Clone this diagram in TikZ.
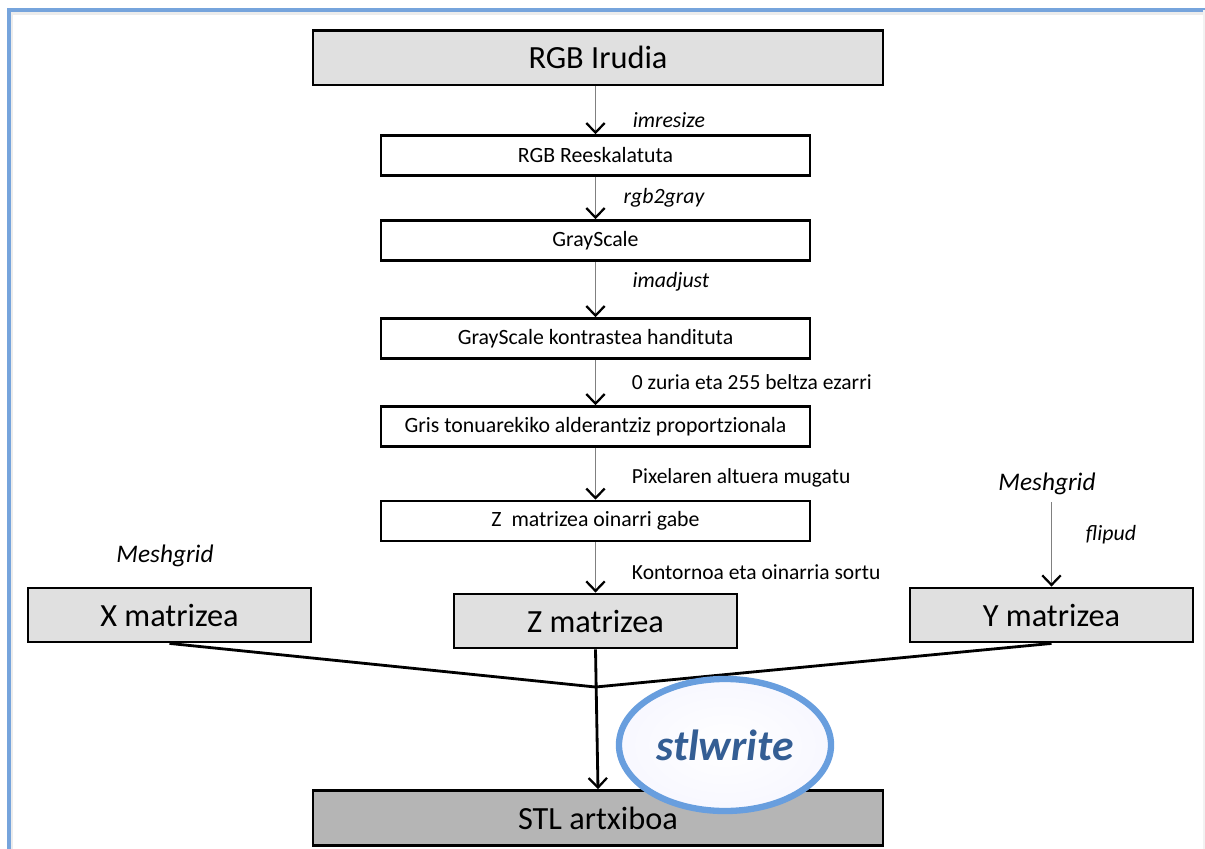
\documentclass[tikz,border=0pt]{standalone}
\usepackage{fontspec}
\setmainfont{Carlito}
\usepackage{tikz}
\usetikzlibrary{shapes,arrows.meta,positioning,calc}
\definecolor{framblue}{RGB}{118, 164, 220}
\definecolor{ringblue}{RGB}{104, 158, 222}
\definecolor{boxgray}{RGB}{224, 224, 224}
\definecolor{stlgray}{RGB}{181, 181, 181}
\definecolor{linegray}{RGB}{128, 128, 128}
\definecolor{writeblue}{RGB}{52, 94, 148}

\begin{document}
\begin{tikzpicture}[x=0.025cm, y=-0.025cm]
    % Styles
    \tikzstyle{bigbox} = [draw=black, fill=boxgray, line width=2pt, minimum width=14.25cm, minimum height=1.37cm, font=\fontsize{23}{27}\selectfont]
    \tikzstyle{stepbox} = [draw=black, fill=white, line width=1.8pt, minimum width=10.72cm, minimum height=1cm, font=\fontsize{15.5}{18}\selectfont]
    \tikzstyle{matbox} = [draw=black, fill=boxgray, line width=2pt, minimum width=7.07cm, minimum height=1.35cm, font=\fontsize{23}{27}\selectfont]
    \tikzstyle{steplabel} = [font=\fontsize{15.5}{18}\selectfont\itshape]
    \tikzstyle{note} = [font=\fontsize{15.3}{18}\selectfont, anchor=west]
    \tikzstyle{arrow} = [linegray, line width=1pt, -{Straight Barb[color=black, length=2.4mm, width=4.6mm, line width=1.6pt]}]
    \tikzstyle{joinline} = [black, line width=2pt]

    \useasboundingbox (0,0) rectangle (1205,849);

    % Frame
    \draw[gray!15, line width=3pt] (11,849) -- (11,13) -- (1205,13);
    \draw[framblue, line width=2.2pt] (9,849) -- (9,10) -- (1205,10);
    \draw[gray!10, line width=1pt] (1204,10) -- (1204,849);

    % Main chain
    \node[bigbox] (rgb_img) at (598, 57.5) {RGB Irudia};
    \node[stepbox] (rgb_res) at (595.5, 155.5) {RGB Reeskalatuta};
    \node[stepbox] (gray_img) at (595.5, 240.5) {GrayScale};
    \node[stepbox] (gray_con) at (595.5, 338.5) {GrayScale kontrastea handituta};
    \node[stepbox] (gray_inv) at (595.5, 426.5) {Gris tonuarekiko alderantziz proportzionala};
    \node[stepbox] (z_raw) at (595.5, 521) {Z\ \ matrizea oinarri gabe};

    % Matrices
    \node[matbox] (x_mat) at (169.5, 615) {X matrizea};
    \node[matbox] (z_mat) at (595.5, 621) {Z matrizea};
    \node[matbox] (y_mat) at (1051.5, 615) {Y matrizea};
    \node[bigbox, fill=stlgray] (stl_file) at (598, 818) {STL artxiboa};

    % Labels
    \node[steplabel] at (669, 120) {imresize};
    \node[steplabel] at (664, 198) {rgb2gray};
    \node[steplabel] at (671, 282) {imadjust};
    \node[note] at (627, 382) {0 zuria eta 255 beltza ezarri};
    \node[note] at (627, 478) {Pixelaren altuera mugatu};
    \node[note] at (627, 572) {Kontornoa eta oinarria sortu};
    \node[steplabel, font=\fontsize{18}{21}\selectfont\itshape] at (165, 556) {Meshgrid};
    \node[steplabel, font=\fontsize{18}{21}\selectfont\itshape] at (1047, 484) {Meshgrid};
    \node[steplabel] at (1111, 535) {flipud};

    % Arrows
    \draw[arrow] (rgb_img.south -| rgb_res.north) -- (rgb_res.north);
    \draw[arrow] (rgb_res) -- (gray_img);
    \draw[arrow] (gray_img) -- (gray_con);
    \draw[arrow] (gray_con) -- (gray_inv);
    \draw[arrow] (gray_inv) -- (z_raw);
    \draw[arrow] (z_raw) -- (z_mat);
    \coordinate (mesh_y) at (1051.5, 502);
    \draw[arrow] (mesh_y) -- (y_mat.north);

    % Joining into stlwrite
    \coordinate (join) at (595.5, 687);
    \draw[joinline] (x_mat.south) -- (join);
    \draw[joinline] (y_mat.south) -- (join);
    \draw[joinline, -{Straight Barb[length=2.4mm, width=4.6mm, line width=1.6pt]}] (z_mat.south) -- (stl_file.north);

    \node[ellipse, draw=ringblue, line width=4.5pt, inner color=white, outer color=blue!3, minimum width=5.3cm, minimum height=3.3cm, font=\fontsize{31}{35}\selectfont\bfseries\itshape, text=writeblue] (stl_write) at (725, 745) {stlwrite};
\end{tikzpicture}
\end{document}
